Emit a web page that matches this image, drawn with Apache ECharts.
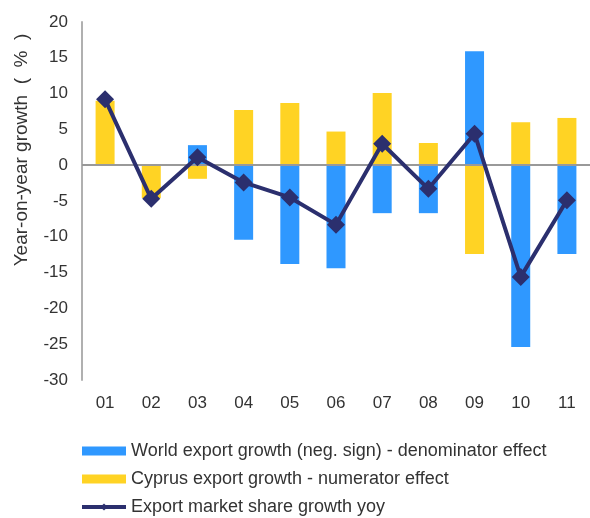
<!DOCTYPE html>
<html>
<head>
<meta charset="utf-8">
<script src="https://cdn.jsdelivr.net/npm/echarts@6/dist/echarts.min.js"></script>
<style>
  html, body { margin: 0; padding: 0; background: #fff; }
  #chart { width: 590px; height: 518px; }
</style>
</head>
<body>
<div id="chart"></div>
<script>
const months = ['01', '02', '03', '04', '05', '06', '07', '08', '09', '10', '11'];
const worldGrowth = [0, 0, 2.8, -10.4, -13.8, -14.4, -6.7, -6.7, 15.9, -25.4, -12.4];
const cyprusGrowth = [9.0, -4.6, -1.9, 7.7, 8.7, 4.7, 10.1, 3.1, -12.4, 6.0, 6.6];
const shareGrowth = [9.2, -4.7, 1.1, -2.4, -4.5, -8.3, 3.0, -3.3, 4.4, -15.6, -4.9];

const labelFont = { color: '#333', fontSize: 16, fontFamily: 'Liberation Sans, Arial, sans-serif' };

const chart = echarts.init(document.getElementById('chart'));
chart.setOption({
  backgroundColor: '#fff',
  animation: false,
  grid: { left: 82, right: 0, top: 22, bottom: 138 },
  legend: {
    orient: 'vertical',
    left: 80,
    top: 442,
    height: 80,
    padding: 0,
    itemWidth: 44,
    itemHeight: 9,
    itemGap: 10,
    textStyle: { color: '#333', fontSize: 18, fontFamily: 'Liberation Sans, Arial, sans-serif' },
    data: [
      { name: 'World export growth (neg. sign) - denominator effect', icon: 'rect' },
      { name: 'Cyprus export growth - numerator effect', icon: 'rect' },
      { name: 'Export market share growth yoy', lineStyle: { width: 4 } }
    ]
  },
  graphic: [{
    type: 'text',
    x: 22,
    y: 150,
    rotation: Math.PI / 2,
    style: {
      text: 'Year-on-year growth  (  %  )',
      fill: '#333',
      fontSize: 19,
      fontFamily: 'Liberation Sans, Arial, sans-serif',
      align: 'center',
      verticalAlign: 'middle'
    }
  }],
  xAxis: {
    type: 'category',
    data: months,
    axisLine: { show: false, onZero: false },
    axisTick: { show: false },
    axisLabel: Object.assign({ margin: 15 }, labelFont, { fontSize: 17 })
  },
  yAxis: {
    type: 'value',
    min: -30,
    max: 20,
    interval: 5,
    axisLine: { show: true, lineStyle: { color: '#b0b0b0', width: 2 } },
    axisTick: { show: false },
    splitLine: { show: false },
    axisLabel: Object.assign({ margin: 14 }, labelFont, { fontSize: 17 })
  },
  series: [
    {
      name: 'World export growth (neg. sign) - denominator effect',
      type: 'bar',
      stack: 'total',
      barWidth: 19,
      data: worldGrowth,
      itemStyle: { color: '#2f98ff' },
      markLine: {
        silent: true,
        symbol: 'none',
        label: { show: false },
        lineStyle: { color: '#999', type: 'solid', width: 2 },
        data: [{ yAxis: 0 }]
      }
    },
    {
      name: 'Cyprus export growth - numerator effect',
      type: 'bar',
      stack: 'total',
      barWidth: 19,
      data: cyprusGrowth,
      itemStyle: { color: '#ffd324' }
    },
    {
      name: 'Export market share growth yoy',
      type: 'line',
      data: shareGrowth,
      symbol: 'diamond',
      symbolSize: 18,
      lineStyle: { color: '#2b2f6e', width: 4 },
      itemStyle: { color: '#2b2f6e' },
      z: 5
    }
  ]
});
</script>
</body>
</html>
